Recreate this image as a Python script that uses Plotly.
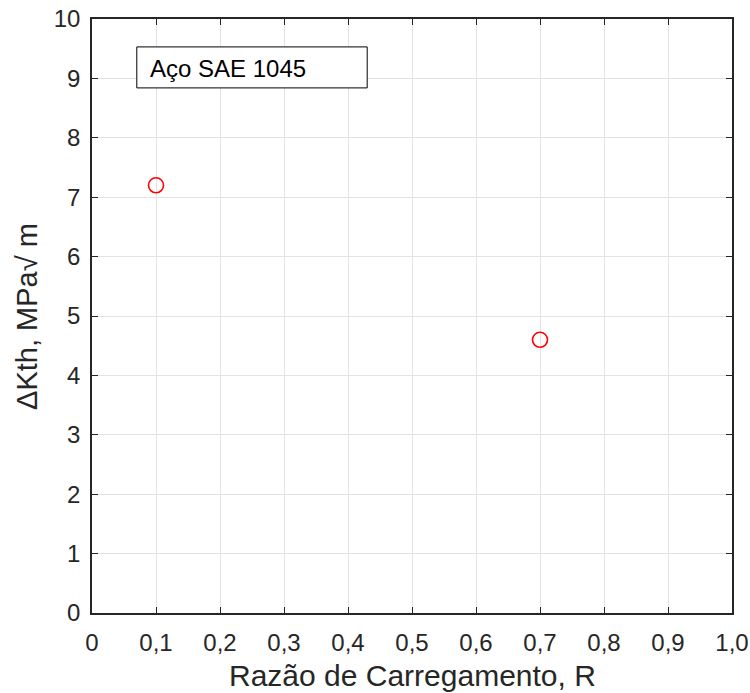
import plotly.graph_objects as go

R = [0.1, 0.7]
dKth = [7.2, 4.6]
xticks = [0, 0.1, 0.2, 0.3, 0.4, 0.5, 0.6, 0.7, 0.8, 0.9, 1.0]
xticklabels = ["0", "0,1", "0,2", "0,3", "0,4", "0,5", "0,6", "0,7", "0,8", "0,9", "1,0"]
yticks = list(range(0, 11))
label = "Aço SAE 1045"
xtitle = "Razão de Carregamento, R"
ytitle = "ΔKth, MPa√\u00a0m"

FONT = "Liberation Sans, Arial"

fig = go.Figure()
fig.add_trace(go.Scatter(
    x=R, y=dKth, mode="markers",
    marker=dict(symbol="circle-open", size=15, color="#ff0000", line=dict(width=1.6, color="#ff0000")),
    showlegend=False,
))

axis_common = dict(
    showline=True, linecolor="#262626", linewidth=1.5, mirror="ticks",
    ticks="inside", ticklen=6, tickcolor="#262626", tickwidth=1,
    showgrid=True, gridcolor="#e3e3e3", gridwidth=1, zeroline=False,
    automargin=False, ticklabeloverflow="allow",
    tickfont=dict(family=FONT, size=24, color="#262626"),
)

fig.update_xaxes(range=[0, 1], tickvals=xticks, ticktext=xticklabels, ticklabelstandoff=7,
                 **axis_common)
fig.update_yaxes(range=[0, 10], tickvals=yticks, ticklabelstandoff=5,
                 **axis_common)

# axis titles
fig.add_annotation(xref="paper", yref="paper", x=0.5, y=-0.1044, text=xtitle, showarrow=False,
                   xanchor="center", yanchor="middle",
                   font=dict(family=FONT, size=30, color="#262626"))
fig.add_annotation(xref="paper", yref="paper", x=-0.1016, y=0.5, text=ytitle, showarrow=False,
                   xanchor="center", yanchor="middle", textangle=-90,
                   font=dict(family=FONT, size=29, color="#262626"))

fig.add_shape(type="rect", xref="x", yref="y", x0=0.07, x1=0.43, y0=8.84, y1=9.53,
              line=dict(color="#000000", width=1), fillcolor="white", layer="above")
fig.add_annotation(xref="x", yref="y", x=0.088, y=9.17, text=label, showarrow=False,
                   xanchor="left", yanchor="middle",
                   font=dict(family=FONT, size=24, color="#000000"))

fig.update_layout(
    width=750, height=693,
    margin=dict(l=92, r=18, t=19, b=80),
    plot_bgcolor="white", paper_bgcolor="white",
)

fig.write_html("out.html", config={"displayModeBar": False},
               post_script="document.body.style.margin='0';document.body.style.overflow='hidden';")
